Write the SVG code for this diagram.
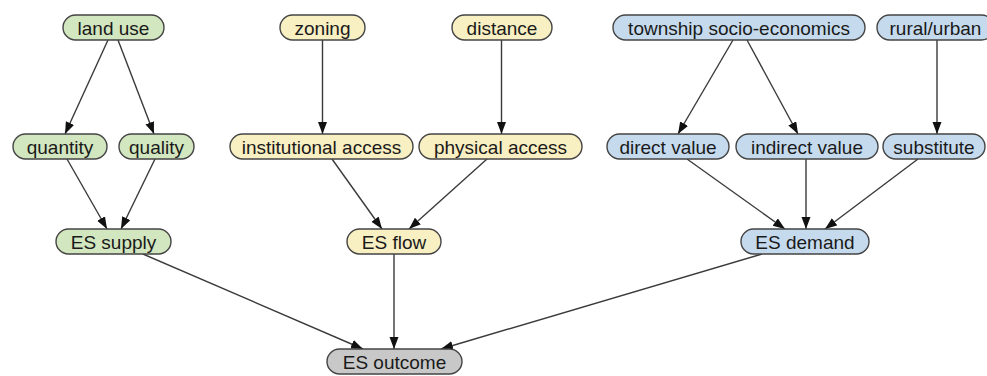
<svg xmlns="http://www.w3.org/2000/svg" width="987" height="376" viewBox="0 0 987 376">
<style>
.n rect{stroke:#444;stroke-width:1.4}
.g rect{fill:#d2e6bf}
.y rect{fill:#f8efc2}
.b rect{fill:#c6daee}
.k rect{fill:#c8c8c8}
.n text{font-family:"Liberation Sans",Arial,sans-serif;font-size:19px;fill:#1a1a1a;text-anchor:middle}
.e line{stroke:#3a3a3a;stroke-width:1.4;marker-end:url(#ah)}
</style>
<defs>
<marker id="ah" markerUnits="userSpaceOnUse" markerWidth="13" markerHeight="10" refX="12" refY="4.5" orient="auto">
<path d="M0,0 L12,4.5 L0,9 z" fill="#111"/>
</marker>
</defs>
<rect width="987" height="376" fill="#fff"/>
<g id="edges" class="e">
<line x1="108" y1="40" x2="65" y2="134"/>
<line x1="118" y1="40" x2="154" y2="134"/>
<line x1="67" y1="159" x2="107" y2="229"/>
<line x1="155" y1="159" x2="121" y2="229"/>
<line x1="322.5" y1="40" x2="322.5" y2="134"/>
<line x1="501.5" y1="40" x2="501.5" y2="134"/>
<line x1="332" y1="159" x2="382" y2="229"/>
<line x1="487" y1="159" x2="409" y2="229"/>
<line x1="733" y1="40" x2="678" y2="134"/>
<line x1="747" y1="40" x2="798" y2="134"/>
<line x1="937" y1="40" x2="937" y2="134"/>
<line x1="687" y1="159" x2="785" y2="229"/>
<line x1="806" y1="159" x2="806" y2="229"/>
<line x1="918" y1="159" x2="825" y2="229"/>
<line x1="143" y1="254" x2="363" y2="349"/>
<line x1="394" y1="254" x2="394" y2="349"/>
<line x1="762" y1="254" x2="441" y2="349"/>
</g>
<g id="land_use" class="n g"><rect x="63" y="15" width="101" height="25" rx="12.5"/><text x="113.5" y="34.5">land use</text></g>
<g id="zoning" class="n y"><rect x="280" y="15" width="85" height="25" rx="12.5"/><text x="322.5" y="34.5">zoning</text></g>
<g id="distance" class="n y"><rect x="452" y="15" width="100" height="25" rx="12.5"/><text x="502" y="34.5">distance</text></g>
<g id="township" class="n b"><rect x="613" y="15" width="252" height="25" rx="12.5"/><text x="739" y="34.5">township socio-economics</text></g>
<g id="rural_urban" class="n b"><rect x="877" y="15" width="117" height="25" rx="12.5"/><text x="935.5" y="34.5">rural/urban</text></g>
<g id="quantity" class="n g"><rect x="13" y="134" width="94" height="25" rx="12.5"/><text x="60" y="153.5">quantity</text></g>
<g id="quality" class="n g"><rect x="119" y="134" width="75" height="25" rx="12.5"/><text x="156.5" y="153.5">quality</text></g>
<g id="institutional_access" class="n y"><rect x="230" y="134" width="183" height="25" rx="12.5"/><text x="321.5" y="153.5">institutional access</text></g>
<g id="physical_access" class="n y"><rect x="419" y="134" width="163" height="25" rx="12.5"/><text x="500.5" y="153.5">physical access</text></g>
<g id="direct_value" class="n b"><rect x="607" y="134" width="122" height="25" rx="12.5"/><text x="668" y="153.5">direct value</text></g>
<g id="indirect_value" class="n b"><rect x="736" y="134" width="142" height="25" rx="12.5"/><text x="807" y="153.5">indirect value</text></g>
<g id="substitute" class="n b"><rect x="883" y="134" width="102" height="25" rx="12.5"/><text x="934" y="153.5">substitute</text></g>
<g id="es_supply" class="n g"><rect x="56" y="229" width="115" height="25" rx="12.5"/><text x="113.5" y="248.5">ES supply</text></g>
<g id="es_flow" class="n y"><rect x="347" y="229" width="94" height="25" rx="12.5"/><text x="394" y="248.5">ES flow</text></g>
<g id="es_demand" class="n b"><rect x="741" y="229" width="128" height="25" rx="12.5"/><text x="805" y="248.5">ES demand</text></g>
<g id="es_outcome" class="n k"><rect x="327" y="349" width="135" height="25" rx="12.5"/><text x="394.5" y="368.5">ES outcome</text></g>
</svg>
